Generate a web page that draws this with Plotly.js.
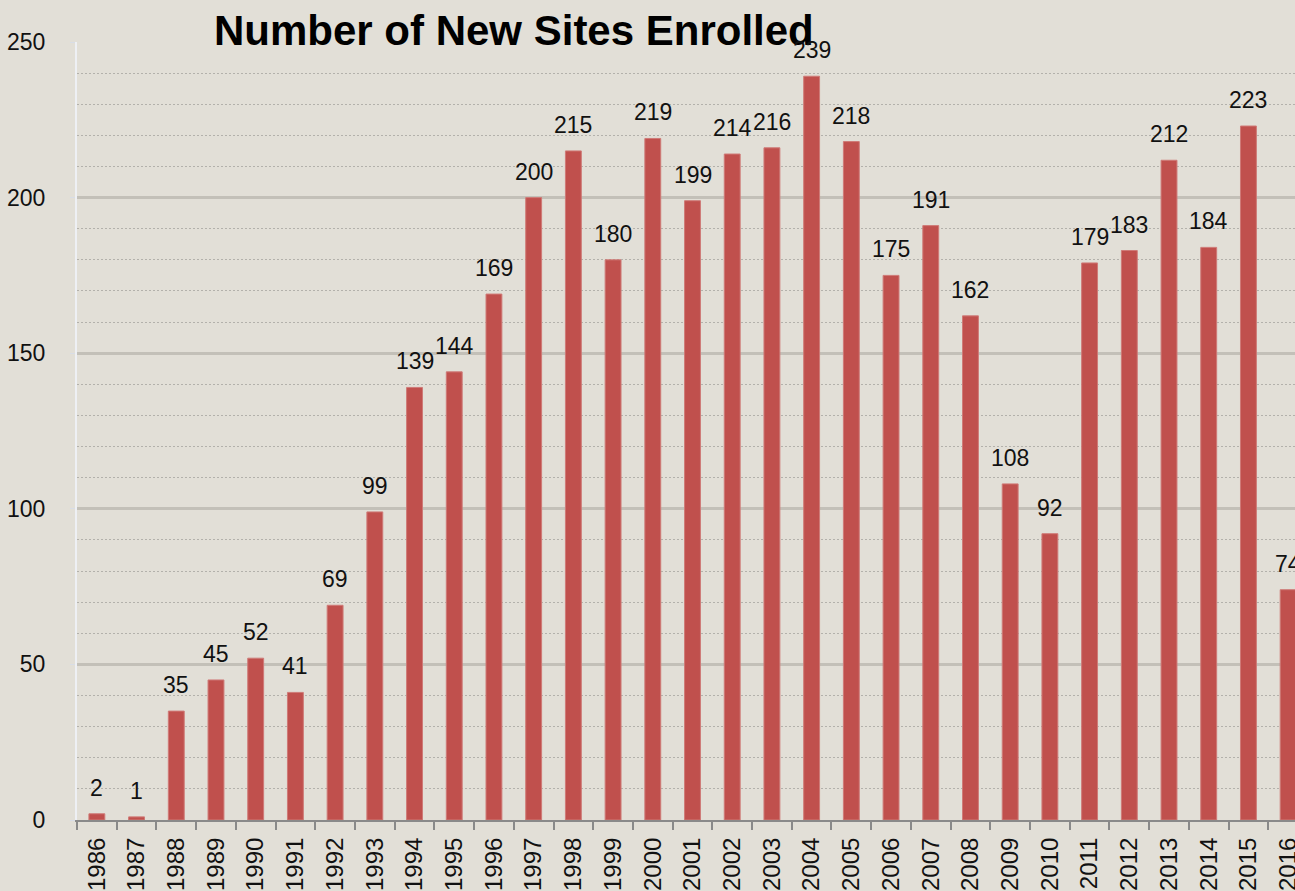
<!DOCTYPE html>
<html>
<head>
<meta charset="utf-8">
<script src="https://cdn.plot.ly/plotly-3.0.1.min.js"></script>
<style>
  html, body { margin: 0; padding: 0; width: 1295px; height: 891px; overflow: hidden; background: #e2dfd7; }
  #chart { width: 1310px; height: 891px; }
</style>
</head>
<body>
<div id="chart"></div>
<script>
const years = ["1986","1987","1988","1989","1990","1991","1992","1993","1994","1995","1996","1997","1998","1999","2000","2001","2002","2003","2004","2005","2006","2007","2008","2009","2010","2011","2012","2013","2014","2015","2016"];
const newSites = [2,1,35,45,52,41,69,99,139,144,169,200,215,180,219,199,214,216,239,218,175,191,162,108,92,179,183,212,184,223,74];
const yTicks = [0,50,100,150,200,250];
const chartTitle = "Number of New Sites Enrolled";

const W = 1310, H = 891;
const font = "Liberation Sans, Arial, sans-serif";

const trace = {
  type: "bar",
  x: years,
  y: newSites,
  marker: { color: "#c0504d", line: { color: "#cf7a77", width: 1 } },
  hoverinfo: "x+y"
};

// data labels placed through the category axis (index positions) and value axis
const annotations = years.map((yr, i) => ({
  x: i, y: newSites[i], xref: "x", yref: "y",
  text: String(newSites[i]),
  showarrow: false,
  yanchor: "bottom",
  yshift: 11,
  font: { family: font, size: 23, color: "#111" }
}));

const layout = {
  width: W, height: H,
  paper_bgcolor: "rgba(0,0,0,0)",
  plot_bgcolor: "rgba(0,0,0,0)",
  margin: { l: 77, r: 2, t: 42, b: 71, pad: 0 },
  showlegend: false,
  bargap: 0.6,
  title: {
    text: "<b>" + chartTitle + "</b>",
    font: { family: font, size: 42, color: "#000" },
    xref: "container", yref: "container",
    x: 214 / W, xanchor: "left",
    y: 1 - 16 / H, yanchor: "top"
  },
  xaxis: {
    type: "category",
    range: [-0.5, years.length - 0.5],
    tickangle: -90,
    tickfont: { family: font, size: 24, color: "#111" },
    ticks: "outside", tickson: "boundaries", ticklen: 8, tickwidth: 2, tickcolor: "#8a8a8a",
    showline: true, linecolor: "#8a8a8a", linewidth: 2,
    showgrid: false, zeroline: false,
    ticklabelstandoff: 6
  },
  yaxis: {
    range: [0, 250],
    tickvals: yTicks,
    ticktext: yTicks.map(String),
    tickfont: { family: font, size: 23, color: "#111" },
    ticks: "outside", ticklen: 5, tickwidth: 1, tickcolor: "#d8dde6",
    showline: true, linecolor: "#eef0f4", linewidth: 2,
    showgrid: true, gridcolor: "#c3c0b8", gridwidth: 3,
    zeroline: false,
    ticklabelstandoff: 20,
    minor: { dtick: 10, showgrid: true, gridcolor: "#b3b1ab", griddash: "2px,2px", gridwidth: 1, ticks: "" }
  },
  annotations: annotations
};

Plotly.newPlot("chart", [trace], layout, { displayModeBar: false, staticPlot: true });
</script>
</body>
</html>
